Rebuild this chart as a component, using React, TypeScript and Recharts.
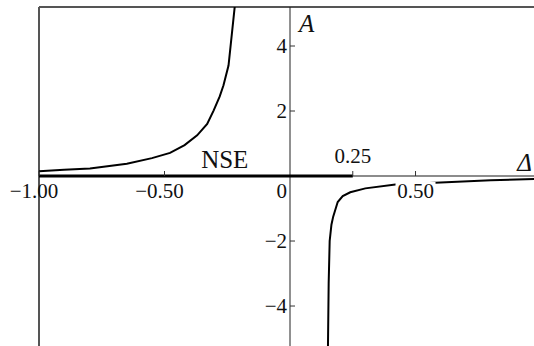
import { LineChart, Line, XAxis, YAxis, ReferenceLine, ReferenceDot } from "recharts"

// left branch of A(Δ), rising toward the pole
const leftDelta = [-1.0, -0.9, -0.797, -0.65, -0.55, -0.478, -0.42, -0.37, -0.33, -0.304, -0.28, -0.265, -0.245, -0.219]
const leftA = [0.15, 0.19, 0.23, 0.38, 0.55, 0.71, 0.95, 1.25, 1.6, 2.02, 2.45, 2.79, 3.4, 5.3]

// right branch, coming up from −∞ and flattening out under the axis
const rightDelta = [0.151, 0.154, 0.158, 0.165, 0.172, 0.19, 0.21, 0.24, 0.3, 0.42, 0.6, 0.8, 0.972]
const rightA = [-5.4, -3.3, -2.0, -1.5, -1.25, -0.8, -0.62, -0.5, -0.38, -0.26, -0.2, -0.13, -0.09]

// NSE segment along Δ axis
const nseDelta = [-1.0, 0.25]

const xTicks = [-1.0, -0.5, 0, 0.25, 0.5]
const xTickLabels = ["−1.00", "−0.50", "0", "0.25", "0.50"]
const yTicks = [-4, -2, 2, 4]
const yTickLabels = ["−4", "−2", "2", "4"]

const X_MIN = -1.0
const X_MAX = 0.972
const Y_MIN = -5.23
const Y_MAX = 5.2

const leftData = leftDelta.map((d, i) => ({ d, a: leftA[i] }))
const rightData = rightDelta.map((d, i) => ({ d, a: rightA[i] }))
const nseData = nseDelta.map((d) => ({ d, a: 0 }))

const serif = "'Liberation Serif', 'Times New Roman', serif"

function XTick({ cx, cy, label, value }: any) {
  const above = value === 0.25
  const neg = value < 0
  const isZero = value === 0
  const tx = isZero ? cx - 3 : neg ? cx - 5 : cx
  const ty = above ? cy - 13 : cy + 22
  return (
    <g>
      {!isZero && <line x1={cx} y1={cy} x2={cx} y2={cy - 5} stroke="#333" strokeWidth={1} />}
      {value === 0.5 && <rect x={cx - 20} y={cy + 6} width={40} height={18} fill="#fff" />}
      <text x={tx} y={ty} textAnchor={isZero ? "end" : "middle"} fontFamily={serif} fontSize={21} fill="#111">
        {label}
      </text>
    </g>
  )
}

function YTick({ cx, cy, label }: any) {
  return (
    <g>
      <line x1={cx} y1={cy} x2={cx + 5} y2={cy} stroke="#333" strokeWidth={1} />
      <text x={cx - 3} y={cy + 7} textAnchor="end" fontFamily={serif} fontSize={21} fill="#111">
        {label}
      </text>
    </g>
  )
}

export default function App() {
  return (
    <div style={{ position: "absolute", left: 0, top: 0, background: "#fff" }}>
      <LineChart width={534} height={346} margin={{ top: 7, right: 0, bottom: 0, left: 39 }}>
        <XAxis type="number" dataKey="d" domain={[X_MIN, X_MAX]} hide allowDataOverflow />
        <YAxis type="number" dataKey="a" domain={[Y_MIN, Y_MAX]} hide allowDataOverflow />

        {/* frame: top and left edges */}
        <ReferenceLine y={Y_MAX} stroke="#555" strokeWidth={2} ifOverflow="visible" />
        <ReferenceLine x={X_MIN} stroke="#555" strokeWidth={2} ifOverflow="visible" />

        {/* coordinate axes through the origin */}
        <ReferenceLine y={0} stroke="#666" strokeWidth={1.5} />
        <ReferenceLine x={0} stroke="#222" strokeWidth={1} />

        <Line data={nseData} dataKey="a" type="linear" stroke="#000" strokeWidth={3} dot={false} isAnimationActive={false} />
        <Line data={leftData} dataKey="a" type="linear" stroke="#000" strokeWidth={2} dot={false} isAnimationActive={false} />
        <Line data={rightData} dataKey="a" type="linear" stroke="#000" strokeWidth={2} dot={false} isAnimationActive={false} />

        {xTicks.map((v, i) => (
          <ReferenceDot
            key={"x" + v}
            x={v}
            y={0}
            r={0}
            ifOverflow="visible"
            shape={(p: any) => <XTick cx={p.cx} cy={p.cy} value={v} label={xTickLabels[i]} />}
          />
        ))}
        {yTicks.map((v, i) => (
          <ReferenceDot
            key={"y" + v}
            x={0}
            y={v}
            r={0}
            ifOverflow="visible"
            shape={(p: any) => <YTick cx={p.cx} cy={p.cy} label={yTickLabels[i]} />}
          />
        ))}

        <ReferenceDot
          x={-0.26}
          y={0}
          r={0}
          ifOverflow="visible"
          shape={(p: any) => (
            <text x={p.cx} y={p.cy - 8} textAnchor="middle" fontFamily={serif} fontSize={25} fill="#111">
              NSE
            </text>
          )}
        />
        <ReferenceDot
          x={0}
          y={Y_MAX}
          r={0}
          ifOverflow="visible"
          shape={(p: any) => (
            <text x={p.cx + 9} y={p.cy + 25} fontFamily={serif} fontStyle="italic" fontSize={25} fill="#111">
              A
            </text>
          )}
        />
        <ReferenceDot
          x={X_MAX}
          y={0}
          r={0}
          ifOverflow="visible"
          shape={(p: any) => (
            <text x={p.cx - 2} y={p.cy - 5} textAnchor="end" fontFamily={serif} fontStyle="italic" fontSize={25} fill="#111">
              Δ
            </text>
          )}
        />
      </LineChart>
    </div>
  )
}
